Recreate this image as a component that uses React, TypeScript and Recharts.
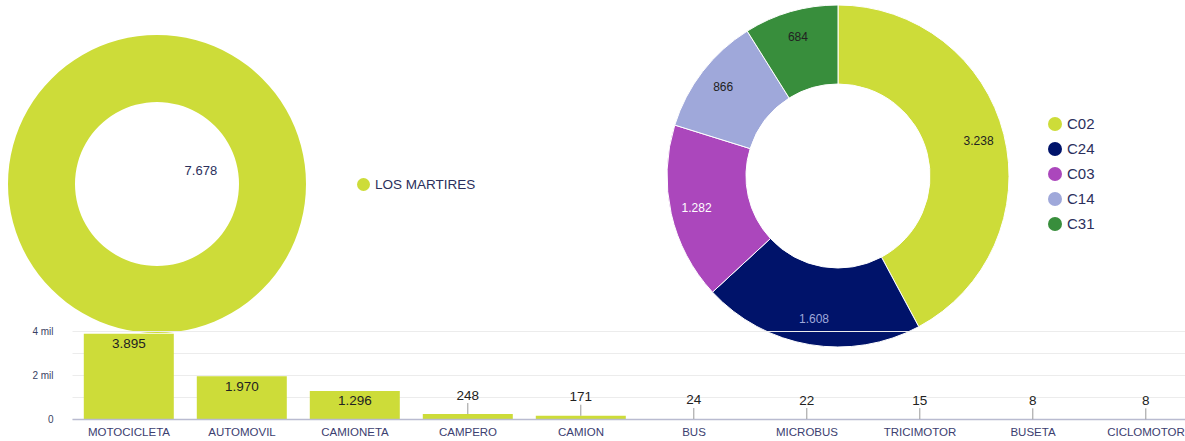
import {
	PieChart,
	Pie,
	Cell,
	Label,
	Legend,
	BarChart,
	Bar,
	XAxis,
	YAxis,
	CartesianGrid,
	LabelList,
} from 'recharts';

const localityNames = ['LOS MARTIRES'];
const localityTotals = [7678];

const zoneNames = ['C02', 'C24', 'C03', 'C14', 'C31'];
const zoneCounts = [3238, 1608, 1282, 866, 684];

const vehicleTypes = [
	'MOTOCICLETA',
	'AUTOMOVIL',
	'CAMIONETA',
	'CAMPERO',
	'CAMION',
	'BUS',
	'MICROBUS',
	'TRICIMOTOR',
	'BUSETA',
	'CICLOMOTOR',
];
const vehicleCounts = [3895, 1970, 1296, 248, 171, 24, 22, 15, 8, 8];
const yTicks = [0, 1000, 2000, 3000, 4000];

const LIME = '#CDDC39';
const zoneColors = ['#CDDC39', '#00136A', '#AB47BC', '#9FA8DA', '#388E3C'];
const zoneLabelColors = ['#222', '#9FA8DA', '#fff', '#222', '#222'];
const NAVY_TEXT = '#2b2f5c';
const FONT = 'Arial, "Liberation Sans", sans-serif';
const NO_MARGIN = { top: 0, right: 0, bottom: 0, left: 0 };

const fmt = (n: number) => String(n).replace(/\B(?=(\d{3})+(?!\d))/g, '.');

const localityData = localityNames.map((name, i) => ({ name, value: localityTotals[i] }));
const zoneData = zoneNames.map((name, i) => ({ name, value: zoneCounts[i] }));
const vehicleData = vehicleTypes.map((name, i) => ({ name, value: vehicleCounts[i] }));

// legend keeps the data order (recharts sorts by name otherwise)
const DotLegend = ({ names, colors, fontSize, rowHeight, dot }: any) => (
	<div style={{ fontFamily: FONT }}>
		{names.map((n: string, i: number) => (
			<div
				key={n}
				style={{ display: 'flex', alignItems: 'center', height: rowHeight, color: NAVY_TEXT, fontSize }}
			>
				<span
					style={{
						display: 'inline-block',
						width: dot,
						height: dot,
						borderRadius: '50%',
						background: colors[i],
						marginRight: 5,
					}}
				/>
				{n}
			</div>
		))}
	</div>
);

const RAD = Math.PI / 180;

const zoneLabel = (props: any) => {
	const { cx, cy, midAngle, index, value } = props;
	const r = 145;
	const x = cx + r * Math.cos(-midAngle * RAD);
	const y = cy + r * Math.sin(-midAngle * RAD);
	return (
		<text
			x={x}
			y={y}
			textAnchor="middle"
			dominantBaseline="central"
			fontSize={12}
			fontFamily={FONT}
			fill={zoneLabelColors[index]}
		>
			{fmt(value)}
		</text>
	);
};

const barLabel = (props: any) => {
	const { x, y, width, height, value } = props;
	const cx = x + width / 2;
	if (height > 15) {
		return (
			<text x={cx} y={y + 10} textAnchor="middle" dominantBaseline="central" fontSize={13.5} fontFamily={FONT} fill="#222">
				{fmt(value)}
			</text>
		);
	}
	return (
		<g>
			<line x1={cx} x2={cx} y1={y - 11} y2={y} stroke="#999" strokeWidth={1} />
			<text x={cx} y={y - 19} textAnchor="middle" dominantBaseline="central" fontSize={13.5} fontFamily={FONT} fill="#222">
				{fmt(value)}
			</text>
		</g>
	);
};

const yFormat = (v: number) => (v === 0 ? '0' : v % 2000 === 0 ? `${v / 1000} mil` : '');

export default function App() {
	return (
		<div
			style={{
				position: 'absolute',
				left: 0,
				top: 0,
				width: 1185,
				height: 441,
				overflow: 'hidden',
				background: '#fff',
				fontFamily: FONT,
			}}
		>
			<div style={{ position: 'absolute', left: 0, top: 0 }}>
				<PieChart width={520} height={340} margin={NO_MARGIN}>
					<Pie
						data={localityData}
						dataKey="value"
						nameKey="name"
						cx={157}
						cy={184}
						outerRadius={149}
						innerRadius={82}
						startAngle={90}
						endAngle={-270}
						stroke="none"
						isAnimationActive={false}
					>
						{localityData.map((d) => (
							<Cell key={d.name} fill={LIME} />
						))}
						<Label
							position="center"
							value={fmt(localityTotals[0])}
							fontSize={13}
							fontFamily={FONT}
							fill={NAVY_TEXT}
						/>
					</Pie>
					<Legend
						layout="vertical"
						align="right"
						verticalAlign="middle"
						wrapperStyle={{ left: 357, right: 'auto', top: 175, width: 'auto' }}
						content={() => (
							<DotLegend names={localityNames} colors={[LIME]} fontSize={13.5} rowHeight={18} dot={13} />
						)}
					/>
				</PieChart>
			</div>
			<div style={{ position: 'absolute', left: 660, top: 0 }}>
				<PieChart width={525} height={360} margin={NO_MARGIN}>
					<Pie
						data={zoneData}
						dataKey="value"
						nameKey="name"
						cx={178}
						cy={176}
						outerRadius={171}
						innerRadius={92}
						startAngle={90}
						endAngle={-270}
						label={zoneLabel}
						labelLine={false}
						isAnimationActive={false}
					>
						{zoneData.map((d, i) => (
							<Cell key={d.name} fill={zoneColors[i]} />
						))}
					</Pie>
					<Legend
						layout="vertical"
						align="right"
						verticalAlign="middle"
						wrapperStyle={{ left: 388, right: 'auto', top: 111, width: 'auto' }}
						content={() => (
							<DotLegend names={zoneNames} colors={zoneColors} fontSize={15} rowHeight={25} dot={14} />
						)}
					/>
				</PieChart>
			</div>
			<div style={{ position: 'absolute', left: 0, top: 320 }}>
				<BarChart
					width={1205}
					height={141}
					data={vehicleData}
					margin={{ top: 11.5, right: 2.5, left: 0, bottom: 11.5 }}
					barCategoryGap="10%"
				>
					<CartesianGrid vertical={false} stroke="#ececec" />
					<XAxis
						dataKey="name"
						interval={0}
						tickLine={false}
						axisLine={{ stroke: '#b9bbd0', strokeWidth: 1.5 }}
						tick={{ fontSize: 11.5, fill: '#3c4070', fontFamily: FONT }}
						height={30}
					/>
					<YAxis
						width={72.5}
						domain={[0, 4000]}
						ticks={yTicks}
						tickFormatter={yFormat}
						axisLine={false}
						tickLine={false}
						tickMargin={13}
						tick={{ fontSize: 10, fill: '#3a3f63', fontFamily: FONT }}
					/>
					<Bar dataKey="value" fill={LIME} isAnimationActive={false}>
						<LabelList dataKey="value" content={barLabel} />
					</Bar>
				</BarChart>
			</div>
		</div>
	);
}
